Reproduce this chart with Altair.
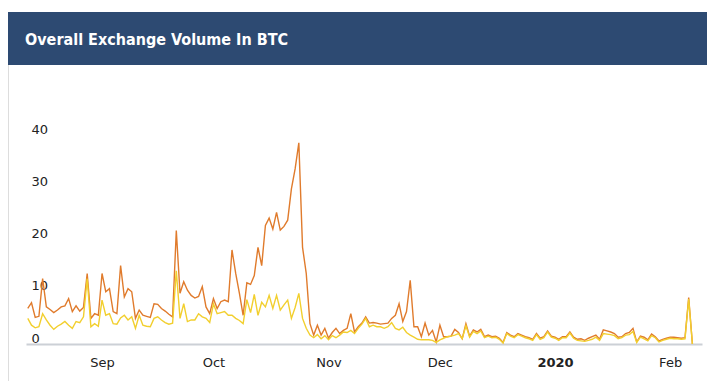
import altair as alt
import pandas as pd

title_text = "Overall Exchange Volume In BTC"
start_date = "2019-08-12"

# Daily values (BTC)
orange_vals = [
    6.8, 7.9, 5.1, 5.3, 12.5, 7.1, 6.6, 6.0, 6.5, 7.1,
    7.3, 8.7, 6.2, 7.3, 6.3, 7.0, 13.5, 4.9, 5.8, 5.5,
    13.5, 10.0, 10.6, 6.2, 5.8, 15.0, 9.0, 10.6, 10.0, 4.9,
    6.5, 5.5, 5.3, 5.1, 7.7, 7.6, 6.8, 6.3, 5.7, 5.2,
    21.7, 9.7, 11.9, 10.3, 9.3, 8.8, 9.1, 11.0, 7.1, 5.8,
    8.7, 6.8, 8.1, 8.4, 8.1, 18.0, 13.5, 9.7, 5.5, 11.7,
    11.4, 13.1, 18.5, 15.0, 22.7, 24.1, 22.0, 25.2, 21.8, 22.5,
    23.7, 29.7, 33.5, 38.5, 18.5, 13.5, 3.9, 1.7, 3.6, 1.7,
    3.0, 1.1, 2.2, 3.0, 2.0, 2.6, 3.0, 5.8, 2.3, 3.3,
    4.0, 5.2, 4.0, 4.1, 4.0, 3.8, 3.9, 4.0, 4.9, 5.5,
    7.7, 4.3, 6.2, 12.2, 3.3, 3.3, 1.4, 4.0, 1.7, 2.6,
    0.4, 3.6, 1.4, 1.4, 1.5, 2.8, 2.2, 1.0,
    3.9, 1.5, 2.7, 2.3, 2.8, 1.4, 1.7, 1.4, 1.5, 1.1,
    0.3, 2.2, 1.7, 1.4, 2.0, 1.7, 1.4, 1.2, 0.9, 2.0,
    1.1, 1.4, 2.5, 1.5, 1.3, 0.9, 1.4, 1.4, 2.3, 1.3,
    0.9, 1.0, 0.7, 1.1, 1.4, 1.7, 0.9, 2.7, 2.5, 2.3,
    2.0, 1.3, 1.4, 2.0, 2.2, 3.0, 0.4, 1.5, 1.3, 0.8,
    1.9, 1.4, 0.6, 0.9, 1.1, 1.3, 1.3, 1.2, 1.1, 1.2,
    8.9, 0.0,
]

yellow_vals = [
    4.9, 3.6, 3.1, 3.3, 5.8, 4.6, 3.6, 2.8, 3.4, 3.8,
    4.3, 3.6, 3.0, 4.3, 4.1, 5.2, 12.5, 3.3, 3.9, 3.4,
    8.4, 5.5, 5.8, 3.9, 3.8, 5.0, 5.5, 4.6, 5.2, 3.0,
    5.5, 3.6, 3.4, 3.3, 4.9, 5.2, 4.6, 4.1, 3.8, 4.0,
    14.0, 4.9, 7.7, 4.3, 4.6, 4.6, 5.8, 5.2, 4.9, 4.1,
    7.7, 5.8, 6.0, 6.2, 5.5, 5.5, 4.9, 4.5, 3.9, 8.5,
    6.0, 9.5, 5.5, 8.0, 7.1, 9.3, 6.8, 9.3, 6.5, 7.5,
    8.4, 4.9, 7.0, 9.7, 4.9, 3.0, 1.7, 1.2, 1.8, 1.0,
    1.6, 0.8, 1.6, 1.2, 1.7, 2.3, 2.2, 2.6, 2.0, 3.0,
    3.8, 4.9, 3.3, 3.6, 3.3, 3.3, 3.0, 3.3, 4.1, 3.0,
    2.7, 3.2, 2.2, 1.7, 1.3, 0.9, 0.8, 0.8, 0.8, 0.7,
    0.3, 0.8, 1.1, 1.4, 1.5, 1.7, 2.0, 1.0,
    3.5, 1.3, 2.4, 2.0, 2.5, 1.2, 1.5, 1.2, 1.3, 0.9,
    0.2, 2.0, 1.5, 1.2, 1.8, 1.5, 1.2, 1.0, 0.7, 1.8,
    0.9, 1.2, 2.3, 1.3, 1.1, 0.7, 1.2, 1.2, 2.1, 1.1,
    0.7, 0.6, 0.5, 0.7, 0.9, 1.3, 0.7, 2.0, 1.9, 1.8,
    1.6, 1.0, 1.2, 1.7, 1.8, 2.4, 0.3, 1.3, 1.0, 0.6,
    1.6, 1.2, 0.4, 0.7, 0.9, 1.1, 1.0, 1.0, 0.9, 1.0,
    8.6, 0.0,
]

series_names = ["Volume (all)", "Volume (main)"]
series_colors = ["#e07b2c", "#f2cf2e"]
y_ticks = [0, 10, 20, 30, 40]

n = len(orange_vals)
assert n == len(yellow_vals)
dates = list(pd.date_range(start_date, periods=n, freq="D"))
df = pd.DataFrame({
    "date": dates + dates,
    "value": orange_vals + yellow_vals,
    "series": [series_names[0]] * n + [series_names[1]] * n,
})

x_enc = alt.X(
    "date:T",
    scale=alt.Scale(domain=[
        alt.DateTime(year=2019, month=8, date=11, hours=12, minutes=30),
        alt.DateTime(year=2020, month=2, date=9, hours=14),
    ]),
    axis=alt.Axis(
        title=None,
        tickCount=alt.TimeIntervalStep(interval="month", step=1),
        labelExpr="month(datum.value) == 0 ? timeFormat(datum.value, '%Y') : timeFormat(datum.value, '%b')",
        labelFontWeight={"condition": {"test": "month(datum.value) == 0", "value": "bold"}, "value": "normal"},
        ticks=False,
        grid=False,
        domainColor="#ccd0d6",
        domainWidth=2,
        labelFont="DejaVu Sans",
        labelFontSize=13,
        labelColor="#222222",
        labelPadding=12,
        labelFlush=False,
        labelOverlap=False,
    ),
)
y_enc = alt.Y(
    "value:Q",
    scale=alt.Scale(domain=[0, 40], nice=False),
    axis=alt.Axis(
        title=None,
        values=y_ticks,
        domain=False,
        ticks=False,
        grid=False,
        labelAlign="left",
        labelPadding=-5,
        labelBaseline="alphabetic",
        labelOffset=-2,
        labelFont="DejaVu Sans",
        labelFontSize=13,
        labelColor="#222222",
    ),
)
color_enc = alt.Color(
    "series:N",
    scale=alt.Scale(domain=series_names, range=series_colors),
    legend=None,
)

base = alt.Chart(df)
line_a = base.transform_filter(alt.datum.series == series_names[0]).mark_line(strokeWidth=1.4).encode(
    x=x_enc, y=y_enc, color=color_enc)
line_b = base.transform_filter(alt.datum.series == series_names[1]).mark_line(strokeWidth=1.4).encode(
    x=x_enc, y=y_enc, color=color_enc)

hdr = pd.DataFrame({"t": [title_text]})
header = alt.Chart(hdr).mark_rect(color="#2d4a72").encode(
    x=alt.value(-18), x2=alt.value(681), y=alt.value(-123), y2=alt.value(-70))
title = alt.Chart(hdr).mark_text(
    align="left", baseline="middle", color="white", fontSize=16, fontWeight="bold",
    font="DejaVu Sans Condensed, sans-serif",
).encode(x=alt.value(-1), y=alt.value(-95), text="t:N")
border = alt.Chart(hdr).mark_rule(color="#dddddd", strokeWidth=1).encode(
    x=alt.value(-17.5), y=alt.value(-70), y2=alt.value(246))

chart = alt.layer(header, title, border, line_a, line_b).properties(
    width=676,
    height=209,
    padding={"left": 18, "top": 127, "right": 5, "bottom": 37},
    autosize=alt.AutoSizeParams(type="none"),
    background="white",
).configure_view(stroke=None)

chart.save("out.html", embed_options={"renderer": "svg", "actions": False})
